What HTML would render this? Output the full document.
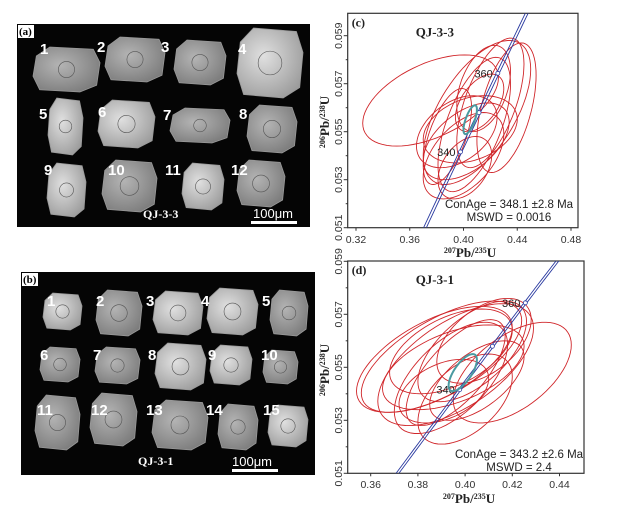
<!DOCTYPE html>
<html><head><meta charset="utf-8"><style>
html,body{margin:0;padding:0;background:#fff;width:633px;height:512px;overflow:hidden;}
svg{display:block;font-family:"Liberation Sans",sans-serif;}
.serif{font-family:"Liberation Serif",serif;font-weight:bold;}
</style></head><body>
<svg id="fig" width="633" height="512" viewBox="0 0 633 512">
<defs>
<clipPath id="clipC"><rect x="347.7" y="13.3" width="230.3" height="214.4"/></clipPath>
<clipPath id="clipD"><rect x="347.7" y="261" width="236.3" height="212.3"/></clipPath>
<radialGradient id="zg" cx="40%" cy="40%" r="70%"><stop offset="0" stop-color="#b4b4b4"/><stop offset="1" stop-color="#7a7a7a"/></radialGradient>
<radialGradient id="zgl" cx="40%" cy="40%" r="70%"><stop offset="0" stop-color="#e0e0e0"/><stop offset="1" stop-color="#9a9a9a"/></radialGradient>
</defs>
<rect x="17" y="24" width="293" height="203" fill="#050505"/>
<rect x="21" y="272" width="294" height="203" fill="#050505"/>
<g id="zA"></g><g id="zB"></g>
<g id="chartC"></g><g id="chartD"></g>
</svg>
<script>
// ---- chart data ----
const ageTicks=[340,360];
const xTicksC=[0.32,0.36,0.40,0.44,0.48];
const yTicks=[0.051,0.053,0.055,0.057,0.059];
const xTicksD=[0.36,0.38,0.40,0.42,0.44];
// ellipses panel c: centers, half-widths, correlations
const cCx=[0.3755,0.41,0.42,0.432,0.408,0.395,0.40,0.405,0.401,0.402,0.388,0.412,0.415];
const cCy=[0.0563,0.0558,0.0562,0.0560,0.0553,0.0550,0.0540,0.0551,0.0535,0.0546,0.0548,0.0562,0.0568];
const cDx=[0.0505,0.040,0.025,0.022,0.027,0.030,0.030,0.035,0.020,0.032,0.018,0.018,0.020];
const cDy=[0.0019,0.0030,0.0027,0.0027,0.0028,0.0015,0.0018,0.0014,0.0013,0.0016,0.0020,0.0012,0.0018];
const cRho=[0.5,0.6,0.6,0.5,0.6,0.4,0.5,0.3,0.4,0.5,0.6,0.5,0.4];
const cMean=[0.405,0.0555,0.005,0.0006,0.7];
// ellipses panel d
const dCx=[0.387,0.390,0.396,0.420,0.394,0.400,0.395,0.403,0.391,0.396,0.394,0.405,0.408];
const dCy=[0.0553,0.0554,0.0551,0.0548,0.0546,0.0538,0.0550,0.0556,0.0541,0.0548,0.0556,0.0545,0.0560];
const dDx=[0.033,0.034,0.033,0.025,0.024,0.020,0.030,0.023,0.019,0.021,0.026,0.020,0.020];
const dDy=[0.0020,0.0021,0.0023,0.0019,0.0021,0.0017,0.0016,0.0019,0.0012,0.0020,0.0016,0.0015,0.0016];
const dRho=[0.6,0.65,0.6,0.55,0.6,0.5,0.5,0.6,0.4,0.7,0.5,0.6,0.5];
const dMean=[0.399,0.0548,0.006,0.0007,0.7];

const NS='http://www.w3.org/2000/svg';
function mk(tag,attrs,parent,txt){const e=document.createElementNS(NS,tag);for(const k in attrs)e.setAttribute(k,attrs[k]);if(txt!=null)e.textContent=txt;parent.appendChild(e);return e;}
const L238=1.55125e-10,L235=9.8485e-10;
function conc(t){return [Math.exp(L235*t*1e6)-1,Math.exp(L238*t*1e6)-1];}

function drawChart(g,cfg){
  const X=cfg.X,Y=cfg.Y;
  const f=mk('rect',{x:cfg.fx,y:cfg.fy,width:cfg.fw,height:cfg.fh,fill:'#fff',stroke:'#333','stroke-width':1.2},g);
  
  
  const pg=mk('g',{'clip-path':cfg.clip},g);
  for(let i=0;i<cfg.cx.length;i++){
    let pts=[];
    const r=cfg.rho[i],s=Math.sqrt(1-r*r);
    for(let k=0;k<=72;k++){const t=k/72*2*Math.PI;const vx=cfg.cx[i]+cfg.dx[i]*Math.cos(t);const vy=cfg.cy[i]+cfg.dy[i]*(r*Math.cos(t)+s*Math.sin(t));pts.push(X(vx).toFixed(1)+','+Y(vy).toFixed(1));}
    const p=mk('polygon',{points:pts.join(' '),fill:'none',stroke:'#d0262a','stroke-width':0.9},pg);
    
    
  }
  for(const off of [-1.4,1.4]){
    let pts=[];
    for(let t=250;t<=420;t+=2){const c=conc(t);pts.push((X(c[0])+off).toFixed(1)+','+(Y(c[1])).toFixed(1));}
    const l=mk('polyline',{points:pts.join(' '),fill:'none',stroke:'#2a3aa0','stroke-width':0.9},pg);
    
    
  }
  for(const a of [340,350,360]){const c=conc(a);const m=mk('circle',{cx:X(c[0]),cy:Y(c[1]),r:2,fill:'#fff',stroke:'#2a3aa0','stroke-width':0.8},pg);
    
    }
  for(const a of ageTicks){const c=conc(a);const t=mk('text',{x:X(c[0])-5,y:Y(c[1])+4,'font-size':11,'text-anchor':'end',fill:'#222'},pg,String(a));
    
    }
  {const m=cfg.mean;let pts=[];const s=Math.sqrt(1-m[4]*m[4]);
   for(let k=0;k<=60;k++){const t=k/60*2*Math.PI;pts.push(X(m[0]+m[2]*Math.cos(t)).toFixed(1)+','+Y(m[1]+m[3]*(m[4]*Math.cos(t)+s*Math.sin(t))).toFixed(1));}
   const p=mk('polygon',{points:pts.join(' '),fill:'none',stroke:'#4a9aa0','stroke-width':2},pg);
   
   }
  for(const v of cfg.xt){const x=X(v);mk('line',{x1:x,x2:x,y1:cfg.fy+cfg.fh,y2:cfg.fy+cfg.fh+3,stroke:'#333'},g);
    const t=mk('text',{x:x,y:cfg.xly,'font-size':10.5,'text-anchor':'middle',fill:'#333'},g,v.toFixed(2));
    
    }
  for(const v of yTicks){const y=Y(v);mk('line',{x1:cfg.fx-4,x2:cfg.fx,y1:y,y2:y,stroke:'#333'},g);
    const ym=Y(v+0.001);if(ym>cfg.fy)mk('line',{x1:cfg.fx-2,x2:cfg.fx,y1:ym,y2:ym,stroke:'#333'},g);
    const t=mk('text',{x:0,y:0,'font-size':10.5,'text-anchor':'middle',fill:'#333',transform:`translate(342,${y}) rotate(-90)`},g,v.toFixed(3));
    
    }
  const xt=mk('text',{x:cfg.xtx,y:cfg.xty,'font-size':13,'text-anchor':'middle',class:'serif',fill:'#222'},g);
  xt.innerHTML='<tspan font-size="8" dy="-4">207</tspan><tspan dy="4">Pb/</tspan><tspan font-size="8" dy="-4">235</tspan><tspan dy="4">U</tspan>';
  
  
  const yt=mk('text',{x:0,y:0,'font-size':13,'text-anchor':'middle',class:'serif',fill:'#222',transform:`translate(329,${cfg.yty}) rotate(-90)`},g);
  yt.innerHTML='<tspan font-size="8" dy="-4">206</tspan><tspan dy="4">Pb/</tspan><tspan font-size="8" dy="-4">238</tspan><tspan dy="4">U</tspan>';
  
  
  const pl=mk('text',{x:cfg.fx+4,y:cfg.fy+13,'font-size':12,class:'serif',fill:'#222'},g,cfg.panel);
  
  
  const sl=mk('text',{x:cfg.fx+68,y:cfg.fy+23,'font-size':13,class:'serif',fill:'#222'},g,cfg.sample);
  
  
  const a1=mk('text',{x:cfg.ax,y:cfg.ay,'font-size':11.5,'text-anchor':'middle',fill:'#222'},g,cfg.age);
  
  
  const a2=mk('text',{x:cfg.ax,y:cfg.ay+13,'font-size':11.5,'text-anchor':'middle',fill:'#222'},g,cfg.mswd);
  
  
}
drawChart(document.getElementById('chartC'),{
  X:v=>356+(v-0.32)/0.04*53.75, Y:v=>227.7-(v-0.051)/0.002*48,
  fx:347.7,fy:13.3,fw:230.3,fh:214.4,clip:'url(#clipC)',
  cx:cCx,cy:cCy,dx:cDx,dy:cDy,rho:cRho,mean:cMean,xt:xTicksC,xly:243,
  xtx:470,xty:257,yty:122,panel:'(c)',sample:'QJ-3-3',ax:509,ay:208,
  age:'ConAge = 348.1 ±2.8 Ma',mswd:'MSWD = 0.0016'});
drawChart(document.getElementById('chartD'),{
  X:v=>370.7+(v-0.36)/0.02*47.2, Y:v=>473.3-(v-0.051)/0.002*53,
  fx:347.7,fy:261,fw:236.3,fh:212.3,clip:'url(#clipD)',
  cx:dCx,cy:dCy,dx:dDx,dy:dDy,rho:dRho,mean:dMean,xt:xTicksD,xly:488,
  xtx:469,xty:503,yty:370,panel:'(d)',sample:'QJ-3-1',ax:519,ay:458,
  age:'ConAge = 343.2 ±2.6 Ma',mswd:'MSWD = 2.4'});

// ---- zircon grains (CL images) ----
const grainsA=[[33,47,100,92,0],[105,37,165,82,0],[174,40,226,85,0],[237,28,303,98,1],[48,98,83,155,1],[98,100,155,148,1],[170,108,230,143,0],[247,105,297,153,0],[47,163,86,217,1],[102,160,157,212,0],[182,163,224,210,1],[237,160,285,207,0]];
const labelsA=[[40,42],[97,40],[161,40],[238,42],[39,107],[98,105],[163,108],[239,107],[44,163],[108,163],[165,163],[231,163]];
const grainsB=[[43,293,82,330,1],[96,290,142,336,0],[153,291,203,335,1],[207,288,258,335,1],[270,290,308,336,0],[40,347,80,382,0],[95,347,140,384,0],[155,343,206,390,1],[210,345,252,385,1],[263,350,298,384,0],[35,395,80,450,0],[90,393,137,446,0],[152,400,208,450,0],[218,404,258,450,0],[268,405,308,447,1]];
const labelsB=[[47,294],[96,294],[146,294],[201,294],[262,294],[40,348],[93,348],[148,348],[208,348],[261,348],[37,403],[91,403],[146,403],[206,403],[263,403]];
function drawGrains(g,grains,labels){
  grains.forEach((b,i)=>{
    const [x1,y1,x2,y2,l]=b;const w=x2-x1,h=y2-y1;
    const pts=[[x1+w*0.25,y1],[x2-w*0.1,y1+h*0.05],[x2,y1+h*0.35],[x2-w*0.05,y2-h*0.15],[x2-w*0.3,y2],[x1+w*0.1,y2-h*0.05],[x1,y2-h*0.35],[x1+w*0.05,y1+h*0.2]];
    const p=mk('polygon',{points:pts.map(q=>q.join(',')).join(' '),fill:l?'url(#zgl)':'url(#zg)',stroke:'#9a9a9a','stroke-width':0.8},g);
    
    
    mk('circle',{cx:x1+w*0.5,cy:y1+h*0.5,r:Math.min(w,h)*0.18,fill:'none',stroke:'#555','stroke-width':0.6},g);
    const t=mk('text',{x:labels[i][0],y:labels[i][1]+12,'font-size':15,'font-weight':'bold',fill:'#fff'},g,String(i+1));
    
    
  });
}
const zA=document.getElementById('zA'),zB=document.getElementById('zB');
drawGrains(zA,grainsA,labelsA);drawGrains(zB,grainsB,labelsB);
function deco(g,x,y,lab,sx,sy,sample,scx,scy,bx1,bx2,by){
  mk('rect',{x:x,y:y,width:16,height:13,fill:'#fff'},g);
  const pl=mk('text',{x:x+1,y:y+10,'font-size':11,class:'serif',fill:'#000'},g,lab);
  
  
  const s=mk('text',{x:sx,y:sy,'font-size':12,class:'serif',fill:'#fff','font-weight':'normal'},g,sample);
  
  
  const st=mk('text',{x:scx,y:scy,'font-size':13,fill:'#fff'},g,'100μm');
  
  
  const sb=mk('rect',{x:bx1,y:by,width:bx2-bx1,height:3,fill:'#fff'},g);
  
  
}
deco(zA,18,25,'(a)',143,218,'QJ-3-3',253,218,251,297,221);
deco(zB,22,273,'(b)',138,465,'QJ-3-1',232,466,232,278,469);
</script>
</body></html>
